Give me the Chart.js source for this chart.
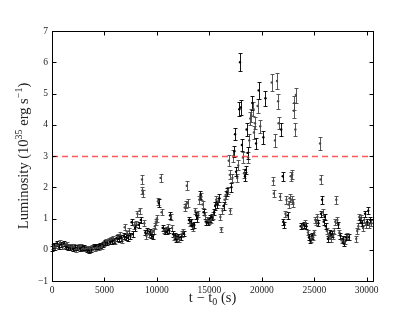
<!DOCTYPE html>
<html>
<head>
<meta charset="utf-8">
<script src="https://cdn.jsdelivr.net/npm/chart.js@4.4.1/dist/chart.umd.min.js"></script>
<style>
  html, body { margin: 0; padding: 0; background: #fff; }
  #lumChart { display: block; }
</style>
</head>
<body>
<canvas id="lumChart" width="415" height="312"></canvas>
<script>
// --- DATA: [t - t0 (s), luminosity (1e35 erg/s), error] ---
const darkPoints = [
  [0,0.05,0.08],[220,0.15,0.08],[440,0.2,0.08],[660,0.1,0.08],[880,0.18,0.08],[1100,0.2,0.08],
  [1320,0.1,0.08],[1540,0.08,0.08],[1760,0.06,0.08],[1980,0.04,0.08],[2200,0.06,0.08],[2420,0.07,0.08],
  [2640,0.05,0.08],[2860,0.08,0.08],[3080,0.08,0.08],[3300,0.0,0.08],[3520,-0.01,0.08],[3740,0.01,0.08],
  [3960,0.1,0.08],[4180,0.12,0.08],[4400,0.1,0.08],[4620,0.14,0.08],[4840,0.18,0.08],
  [5060,0.24,0.08],[5280,0.22,0.08],[5500,0.26,0.08],[5720,0.28,0.09],[5940,0.3,0.09],[6160,0.38,0.09],
  [6380,0.35,0.09],[6600,0.38,0.09],[6820,0.45,0.09],[7040,0.4,0.09],[7260,0.38,0.09],[7480,0.45,0.09],
  [7590,0.88,0.1],[7700,0.5,0.09],[7920,0.7,0.1],[8250,0.8,0.1],[8470,0.95,0.1],
  [8900,0.55,0.09],[9100,0.62,0.09],[9300,0.58,0.09],[9400,0.48,0.09],[9600,0.42,0.09],[10180,1.5,0.12],
  [10550,0.7,0.1],[10750,0.6,0.09],[10950,0.58,0.09],[11150,0.62,0.09],[11250,1.1,0.1],[11550,0.5,0.09],
  [11750,0.45,0.09],[11850,0.35,0.09],[12050,0.42,0.09],[12250,0.4,0.09],[12550,0.52,0.09],[13050,0.95,0.1],
  [13250,0.9,0.1],[13350,0.75,0.1],[13550,0.8,0.1],[13750,1.1,0.1],[13850,1.0,0.1],[14150,1.75,0.12],
  [14450,1.2,0.1],[14650,0.9,0.1],[14850,0.88,0.1],[15050,1.0,0.1],[15250,1.05,0.1],[15450,1.2,0.1],
  [15550,1.4,0.12],[15750,1.45,0.12],[15950,1.65,0.12],[16350,1.4,0.12],[16650,1.85,0.12],[17100,2.0,0.14],
  [17380,3.15,0.18],[17450,3.7,0.2],[17550,2.5,0.14],[17850,4.5,0.23],[17920,6.0,0.28],[18000,4.55,0.23],
  [18100,3.35,0.18],[18400,2.35,0.14],[18450,2.55,0.14],[18550,3.85,0.2],[18650,3.1,0.18],[19100,4.7,0.23],
  [19450,3.4,0.18],[19700,5.1,0.26],[20150,3.6,0.2],[20350,4.85,0.24],[21850,3.85,0.2],[22000,2.35,0.14],
  [22050,0.9,0.1],[22150,0.8,0.1],[22450,1.1,0.1],[23700,0.75,0.1],[24000,0.8,0.1],[24250,0.75,0.1],
  [24500,0.4,0.09],[24600,0.3,0.09],[24800,0.45,0.09],[25400,0.85,0.1],[25650,1.15,0.1],[25750,1.6,0.12],
  [25900,0.9,0.1],[26000,1.05,0.1],[26100,0.75,0.1],[26300,0.35,0.09],[26500,0.55,0.09],[26700,0.5,0.09],
  [27300,0.8,0.1],[27500,0.45,0.09],[27700,0.35,0.09],[27800,0.2,0.08],[28000,0.4,0.09],[28300,0.4,0.09],
  [29350,0.95,0.1],[29550,0.85,0.1],[29850,1.15,0.1],[30050,0.9,0.1],[30150,1.25,0.12],[30350,0.95,0.1]
];

const grayPoints = [
  [110,0.12,0.08],[330,0.08,0.08],[550,0.14,0.08],[770,0.22,0.08],[990,0.12,0.08],[1210,0.15,0.08],
  [1430,0.17,0.08],[1650,0.12,0.08],[1870,0.1,0.08],[2090,0.1,0.08],[2310,0.02,0.08],[2530,0.1,0.08],
  [2750,0.12,0.08],[2970,0.04,0.08],[3190,0.03,0.08],[3410,0.05,0.08],[3630,0.03,0.08],[3850,0.06,0.08],
  [4070,0.04,0.08],[4290,0.07,0.08],[4510,0.06,0.08],[4730,0.1,0.08],[4950,0.2,0.08],
  [5170,0.28,0.08],[5390,0.3,0.09],[5610,0.33,0.09],[5830,0.36,0.09],[6050,0.27,0.09],[6270,0.42,0.09],
  [6490,0.48,0.09],[6710,0.32,0.09],[6930,0.72,0.1],[7150,0.52,0.09],[7370,0.6,0.09],[7810,0.78,0.1],
  [8030,0.82,0.1],[8140,1.15,0.1],[8360,1.25,0.1],[8580,2.25,0.14],[8620,1.9,0.12],[8660,1.8,0.12],
  [8800,0.85,0.1],[9000,0.45,0.09],[9200,0.5,0.09],[9500,0.55,0.09],[9700,0.6,0.09],[9800,0.75,0.1],
  [9900,0.9,0.1],[10000,1.0,0.1],[10100,1.55,0.12],[10350,2.3,0.14],[10450,1.2,0.1],[10650,0.62,0.09],
  [10850,0.65,0.09],[11050,0.72,0.1],[11350,1.05,0.1],[11450,0.7,0.1],[11650,0.4,0.09],[11950,0.38,0.09],
  [12150,0.33,0.09],[12350,0.5,0.09],[12450,0.58,0.09],[12650,1.35,0.12],[12750,1.45,0.12],[12850,2.05,0.14],
  [12950,1.5,0.12],[13150,0.85,0.1],[13450,0.7,0.1],[13650,1.25,0.1],[13950,1.15,0.1],[14050,1.6,0.12],
  [14250,1.7,0.12],[14350,1.45,0.12],[14550,1.1,0.1],[14750,0.95,0.1],[14950,0.92,0.1],[15150,0.95,0.1],
  [15350,1.1,0.1],[15650,1.6,0.12],[15850,1.55,0.12],[16050,1.05,0.1],[16150,0.65,0.09],[16250,1.25,0.1],
  [16450,1.6,0.12],[16550,1.75,0.12],[16750,1.9,0.12],[16850,2.85,0.18],[16950,2.4,0.14],[17000,1.25,0.1],
  [17200,2.3,0.14],[17300,3.0,0.18],[17650,2.3,0.14],[17750,2.7,0.16],[18200,2.95,0.18],[18300,2.45,0.14],
  [18700,2.95,0.18],[18800,3.5,0.2],[18900,4.2,0.22],[19000,4.3,0.22],[19200,4.5,0.23],[19250,3.75,0.2],
  [19350,4.05,0.2],[19600,4.6,0.23],[19850,3.95,0.2],[20950,5.35,0.26],[21100,2.2,0.14],[21150,1.8,0.12],
  [21250,3.5,0.2],[21450,5.4,0.26],[21550,4.75,0.24],[21600,4.05,0.2],[21750,1.7,0.12],[22250,1.15,0.1],
  [22350,1.6,0.12],[22550,1.45,0.12],[22650,1.65,0.12],[22750,2.35,0.14],[22850,1.6,0.12],[22900,2.4,0.14],
  [23000,1.5,0.12],[23050,4.45,0.23],[23100,4.7,0.23],[23200,3.85,0.2],[23250,4.95,0.24],[23850,0.75,0.1],
  [24150,0.85,0.1],[24400,0.55,0.09],[24700,0.35,0.09],[24900,0.4,0.09],[25000,0.55,0.09],[25100,0.95,0.1],
  [25200,0.9,0.1],[25300,1.05,0.1],[25550,3.4,0.2],[25600,2.25,0.14],[25800,1.2,0.1],[26200,0.6,0.09],
  [26400,0.45,0.09],[26600,0.35,0.09],[26800,0.45,0.09],[26900,0.6,0.09],[27000,0.9,0.1],[27100,1.6,0.12],
  [27200,0.95,0.1],[27400,0.55,0.09],[27600,0.3,0.09],[27900,0.25,0.08],[28150,0.45,0.09],[29000,0.35,0.09],
  [29100,0.6,0.09],[29200,0.75,0.1],[29300,1.05,0.1],[29450,1.0,0.1],[29650,0.7,0.1],[29750,0.95,0.1],
  [29950,0.8,0.1],[30250,0.8,0.1],[30450,0.85,0.1]
];

const xTickValues = [0, 5000, 10000, 15000, 20000, 25000, 30000];
const yTickValues = [-1, 0, 1, 2, 3, 4, 5, 6, 7];
const thresholdLevel = 3;

const FONT = '"Liberation Serif", "DejaVu Serif", serif';

function toPoints(list) {
  return list.map(p => ({ x: p[0], y: p[1], e: p[2] }));
}

// error bars drawn under the markers
const errorBarPlugin = {
  id: 'errorBars',
  beforeDatasetsDraw(chart) {
    const { ctx, scales: { x, y } } = chart;
    ctx.save();
    chart.data.datasets.forEach(ds => {
      ctx.strokeStyle = ds.borderColor;
      ctx.lineWidth = 1;
      ctx.beginPath();
      ds.data.forEach(p => {
        const px = Math.round(x.getPixelForValue(p.x)) + 0.5;
        const lo = Math.round(y.getPixelForValue(p.y - p.e)) + 0.5;
        const hi = Math.round(y.getPixelForValue(p.y + p.e)) + 0.5;
        ctx.moveTo(px, lo); ctx.lineTo(px, hi);
        ctx.moveTo(px - 2, lo); ctx.lineTo(px + 2, lo);
        ctx.moveTo(px - 2, hi); ctx.lineTo(px + 2, hi);
      });
      ctx.stroke();
    });
    ctx.restore();
  }
};

// frame, inward ticks, threshold line and axis titles
const framePlugin = {
  id: 'frame',
  afterDatasetsDraw(chart) {
    const { ctx, chartArea: a, scales: { x, y } } = chart;
    ctx.save();

    const ty = Math.round(y.getPixelForValue(thresholdLevel)) + 0.5;
    ctx.strokeStyle = 'rgba(255, 60, 60, 0.85)';
    ctx.lineWidth = 1.6;
    ctx.setLineDash([6, 4]);
    ctx.beginPath();
    ctx.moveTo(a.left, ty); ctx.lineTo(a.right, ty);
    ctx.stroke();
    ctx.setLineDash([]);

    ctx.strokeStyle = '#000';
    ctx.lineWidth = 1;
    const L = Math.round(a.left) + 0.5, R = Math.round(a.right) + 0.5;
    const T = Math.round(a.top) + 0.5, B = Math.round(a.bottom) + 0.5;
    ctx.strokeRect(L, T, R - L, B - T);

    ctx.beginPath();
    xTickValues.forEach(v => {
      const px = Math.round(x.getPixelForValue(v)) + 0.5;
      ctx.moveTo(px, B); ctx.lineTo(px, B - 4);
      ctx.moveTo(px, T); ctx.lineTo(px, T + 4);
    });
    yTickValues.forEach(v => {
      const py = Math.round(y.getPixelForValue(v)) + 0.5;
      ctx.moveTo(L, py); ctx.lineTo(L + 4, py);
      ctx.moveTo(R, py); ctx.lineTo(R - 4, py);
    });
    ctx.stroke();

    // x title: t − t0 (s)
    ctx.fillStyle = '#222';
    ctx.textBaseline = 'alphabetic';
    const big = '14.5px ' + FONT, small = '10px ' + FONT;
    const xParts = [['t \u2212 t', big, 0], ['0', small, 3], [' (s)', big, 0]];
    drawParts(ctx, xParts, (a.left + a.right) / 2, 302);

    // y title: Luminosity (10^35 erg s^-1)
    ctx.translate(28, (a.top + a.bottom) / 2);
    ctx.rotate(-Math.PI / 2);
    const yParts = [['Luminosity (10', big, 0], ['35', small, -6], [' erg s', big, 0], ['\u22121', small, -6], [')', big, 0]];
    drawParts(ctx, yParts, 0, 0);
    ctx.restore();
  }
};

function drawParts(ctx, parts, cx, baseY) {
  let total = 0;
  parts.forEach(p => { ctx.font = p[1]; total += ctx.measureText(p[0]).width; });
  let px = cx - total / 2;
  parts.forEach(p => {
    ctx.font = p[1];
    ctx.fillText(p[0], px, baseY + p[2]);
    px += ctx.measureText(p[0]).width;
  });
}

const ctx = document.getElementById('lumChart').getContext('2d');
new Chart(ctx, {
  type: 'scatter',
  data: {
    datasets: [
      { label: 'gray', data: toPoints(grayPoints), borderColor: 'rgba(70, 70, 70, 0.9)', backgroundColor: 'rgba(70, 70, 70, 0.95)', pointRadius: 1.2, pointBorderWidth: 0 },
      { label: 'dark', data: toPoints(darkPoints), borderColor: 'rgba(10, 10, 10, 0.95)', backgroundColor: '#000', pointRadius: 1.2, pointBorderWidth: 0 }
    ]
  },
  options: {
    responsive: false,
    animation: false,
    layout: { padding: { left: 0, right: 42, top: 31, bottom: 0 } },
    plugins: { legend: { display: false }, tooltip: { enabled: false } },
    scales: {
      x: {
        type: 'linear', min: 0, max: 30600,
        grid: { display: false, drawTicks: false },
        border: { display: false },
        afterBuildTicks: s => { s.ticks = xTickValues.map(v => ({ value: v })); },
        ticks: { padding: 4, color: '#222', maxRotation: 0, autoSkip: false, font: { family: FONT, size: 9.5 },
          callback: v => String(v) },
        afterFit: s => { s.height = 31; }
      },
      y: {
        type: 'linear', min: -1, max: 7,
        grid: { display: false, drawTicks: false },
        border: { display: false },
        afterBuildTicks: s => { s.ticks = yTickValues.map(v => ({ value: v })); },
        ticks: { padding: 4, color: '#222', autoSkip: false, font: { family: FONT, size: 9.5 },
          callback: v => String(v).replace('-', '\u2212') },
        afterFit: s => { s.width = 52; }
      }
    }
  },
  plugins: [errorBarPlugin, framePlugin]
});
</script>
</body>
</html>
